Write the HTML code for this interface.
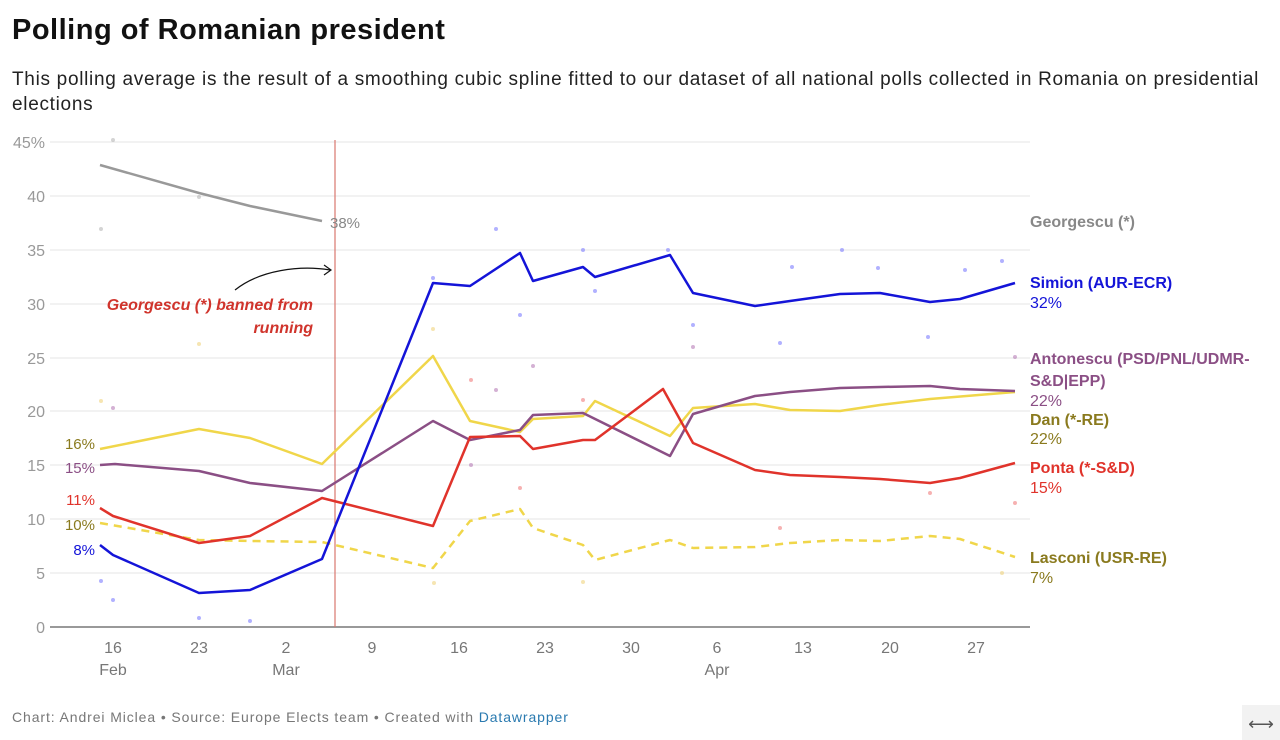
<!DOCTYPE html>
<html><head><meta charset="utf-8"><style>
body{margin:0;background:#fff;font-family:"Liberation Sans",sans-serif;}
.t{position:absolute;left:12px;top:14px;font-size:29px;font-weight:bold;color:#111;letter-spacing:0.5px;}
.s{position:absolute;left:12px;top:67px;width:1262px;font-size:19px;line-height:25px;color:#222;letter-spacing:0.7px;}
.f{position:absolute;left:12px;top:709px;font-size:14px;color:#777;letter-spacing:0.9px;}
</style></head><body>
<div class="t">Polling of Romanian president</div>
<div class="s">This polling average is the result of a smoothing cubic spline fitted to our dataset of all national polls collected in Romania on presidential elections</div>
<svg width="1280" height="740" style="position:absolute;left:0;top:0" font-family="Liberation Sans, sans-serif">
<g stroke="#e6e6e6" stroke-width="1">
<line x1="50" x2="1030" y1="142" y2="142"/><line x1="50" x2="1030" y1="196" y2="196"/><line x1="50" x2="1030" y1="250" y2="250"/><line x1="50" x2="1030" y1="304" y2="304"/><line x1="50" x2="1030" y1="358" y2="358"/><line x1="50" x2="1030" y1="411" y2="411"/><line x1="50" x2="1030" y1="465" y2="465"/><line x1="50" x2="1030" y1="519" y2="519"/><line x1="50" x2="1030" y1="573" y2="573"/>
</g>
<line x1="50" x2="1030" y1="627" y2="627" stroke="#333"/>
<g font-size="16" fill="#999" text-anchor="end">
<text x="45" y="148">45%</text><text x="45" y="202">40</text><text x="45" y="256">35</text><text x="45" y="310">30</text><text x="45" y="364">25</text><text x="45" y="417">20</text><text x="45" y="471">15</text><text x="45" y="525">10</text><text x="45" y="579">5</text><text x="45" y="633">0</text>
</g>
<g font-size="16" fill="#777" text-anchor="middle">
<text x="113" y="653">16</text><text x="199" y="653">23</text><text x="286" y="653">2</text><text x="372" y="653">9</text><text x="459" y="653">16</text><text x="545" y="653">23</text><text x="631" y="653">30</text><text x="717" y="653">6</text><text x="803" y="653">13</text><text x="890" y="653">20</text><text x="976" y="653">27</text>
<text x="113" y="675">Feb</text><text x="286" y="675">Mar</text><text x="717" y="675">Apr</text>
</g>
<line x1="335" x2="335" y1="140" y2="627" stroke="#d9776f" stroke-width="1.2"/>
<g opacity="0.5">
<circle cx="101" cy="229" r="2" fill="#aaa"/><circle cx="113" cy="140" r="2" fill="#aaa"/><circle cx="199" cy="197" r="2" fill="#aaa"/>
<circle cx="101" cy="581" r="2" fill="#66f"/><circle cx="113" cy="600" r="2" fill="#66f"/><circle cx="199" cy="618" r="2" fill="#66f"/><circle cx="250" cy="621" r="2" fill="#66f"/><circle cx="433" cy="278" r="2" fill="#66f"/><circle cx="496" cy="229" r="2" fill="#66f"/><circle cx="520" cy="315" r="2" fill="#66f"/><circle cx="583" cy="250" r="2" fill="#66f"/><circle cx="595" cy="291" r="2" fill="#66f"/><circle cx="668" cy="250" r="2" fill="#66f"/><circle cx="693" cy="325" r="2" fill="#66f"/><circle cx="780" cy="343" r="2" fill="#66f"/><circle cx="792" cy="267" r="2" fill="#66f"/><circle cx="842" cy="250" r="2" fill="#66f"/><circle cx="878" cy="268" r="2" fill="#66f"/><circle cx="928" cy="337" r="2" fill="#66f"/><circle cx="965" cy="270" r="2" fill="#66f"/><circle cx="1002" cy="261" r="2" fill="#66f"/>
<circle cx="113" cy="408" r="2" fill="#a6a"/><circle cx="471" cy="465" r="2" fill="#a6a"/><circle cx="496" cy="390" r="2" fill="#a6a"/><circle cx="533" cy="366" r="2" fill="#a6a"/><circle cx="693" cy="347" r="2" fill="#a6a"/><circle cx="1015" cy="357" r="2" fill="#a6a"/>
<circle cx="471" cy="380" r="2" fill="#e66"/><circle cx="520" cy="488" r="2" fill="#e66"/><circle cx="583" cy="400" r="2" fill="#e66"/><circle cx="780" cy="528" r="2" fill="#e66"/><circle cx="930" cy="493" r="2" fill="#e66"/><circle cx="1015" cy="503" r="2" fill="#e66"/>
<circle cx="101" cy="401" r="2" fill="#ec6"/><circle cx="199" cy="344" r="2" fill="#ec6"/><circle cx="433" cy="329" r="2" fill="#ec6"/><circle cx="583" cy="582" r="2" fill="#ec6"/><circle cx="1002" cy="573" r="2" fill="#ec6"/><circle cx="434" cy="583" r="2" fill="#ec6"/>
</g>
<g fill="none" stroke-width="2.5" stroke-linejoin="round">
<polyline stroke="#999" points="100,165 199,193 250,206 322,221"/>
<polyline stroke="#f0d64a" stroke-dasharray="8,6" points="100,523 199,540 250,541 322,542 433,568 470,521 520,509 533,528 583,545 595,560 670,540 693,548 755,547 790,543 840,540 880,541 930,536 960,539 1015,557"/>
<polyline stroke="#f0d64a" points="100,449 199,429 250,438 322,464 433,356 470,421 520,432 533,419 583,416 595,401 670,436 693,408 755,404 790,410 840,411 880,405 930,399 1015,392"/>
<polyline stroke="#8b4f85" points="100,465 115,464 199,471 250,483 322,491 433,421 470,440 520,430 533,415 583,413 670,456 693,414 755,396 790,392 840,388 880,387 930,386 960,389 1015,391"/>
<polyline stroke="#e0332b" points="100,508 113,516 199,543 250,536 322,498 433,526 470,437 520,436 533,449 583,440 595,440 663,389 693,443 755,470 790,475 840,477 880,479 930,483 960,478 1015,463"/>
<polyline stroke="#1414d8" points="100,545 113,555 199,593 250,590 322,559 433,283 470,286 520,253 533,281 583,267 595,277 670,255 693,293 755,306 790,301 840,294 880,293 930,302 960,299 1015,283"/>
</g>
<text x="330" y="228" font-size="15" fill="#888">38%</text>
<g font-size="15" text-anchor="end">
<text x="95" y="449" fill="#8a7a1e">16%</text><text x="95" y="473" fill="#8b4f85">15%</text><text x="95" y="505" fill="#e0332b">11%</text><text x="95" y="530" fill="#8a7a1e">10%</text><text x="95" y="555" fill="#1414d8">8%</text>
</g>
<g font-size="16" font-weight="bold" fill="#d0342c" font-style="italic" text-anchor="end">
<text x="313" y="310">Georgescu (*) banned from</text><text x="313" y="333">running</text>
</g>
<path d="M235,290 C260,270 300,265 330,270" fill="none" stroke="#111" stroke-width="1.2"/>
<path d="M324,265 L331,270 L324,275" fill="none" stroke="#111" stroke-width="1.2"/>
<g font-size="16">
<text x="1030" y="227" fill="#888" font-weight="bold">Georgescu (*)</text>
<text x="1030" y="288" fill="#1414d8" font-weight="bold">Simion (AUR-ECR)</text><text x="1030" y="308" fill="#1414d8">32%</text>
<text x="1030" y="364" fill="#8b4f85" font-weight="bold">Antonescu (PSD/PNL/UDMR-</text><text x="1030" y="386" fill="#8b4f85" font-weight="bold">S&amp;D|EPP)</text><text x="1030" y="406" fill="#8b4f85">22%</text>
<text x="1030" y="425" fill="#8a7a1e" font-weight="bold">Dan (*-RE)</text><text x="1030" y="444" fill="#8a7a1e">22%</text>
<text x="1030" y="473" fill="#e0332b" font-weight="bold">Ponta (*-S&amp;D)</text><text x="1030" y="493" fill="#e0332b">15%</text>
<text x="1030" y="563" fill="#8a7a1e" font-weight="bold">Lasconi (USR-RE)</text><text x="1030" y="583" fill="#8a7a1e">7%</text>
</g>
<rect x="1242" y="705" width="38" height="35" fill="#f2f2f2"/>
<text x="1261" y="730" font-size="18" fill="#555" text-anchor="middle">⟷</text>
</svg>
<div class="f">Chart: Andrei Miclea • Source: Europe Elects team • Created with <span style="color:#2a7ab0">Datawrapper</span></div>
</body></html>
